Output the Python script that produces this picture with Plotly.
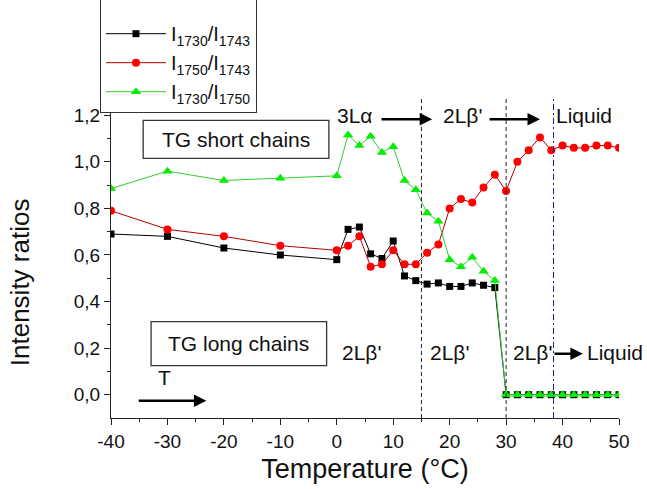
import plotly.graph_objects as go

# ---- data ----
temperature = [-40, -30, -20, -10, 0, 2, 4, 6, 8, 10, 12, 14, 16, 18, 20, 22, 24, 26, 28,
               30, 32, 34, 36, 38, 40, 42, 44, 46, 48, 50]
ratio_1730_1743 = [0.69, 0.68, 0.63, 0.60, 0.58, 0.71, 0.72, 0.605, 0.585, 0.66, 0.51, 0.49,
                   0.475, 0.48, 0.465, 0.465, 0.48, 0.47, 0.46,
                   0, 0, 0, 0, 0, 0, 0, 0, 0, 0, 0]
ratio_1750_1743 = [0.79, 0.71, 0.68, 0.64, 0.62, 0.64, 0.68, 0.55, 0.56, 0.62, 0.56, 0.56,
                   0.61, 0.645, 0.80, 0.84, 0.825, 0.89, 0.945,
                   0.875, 1.00, 1.05, 1.105, 1.05, 1.07, 1.06, 1.06, 1.07, 1.07, 1.06]
ratio_1730_1750 = [0.885, 0.96, 0.92, 0.93, 0.94, 1.115, 1.07, 1.11, 1.04, 1.065, 0.92, 0.88,
                   0.78, 0.745, 0.58, 0.55, 0.59, 0.53, 0.49,
                   0, 0, 0, 0, 0, 0, 0, 0, 0, 0, 0]

series_names = ["I<sub>1730</sub>/I<sub>1743</sub>",
                "I<sub>1750</sub>/I<sub>1743</sub>",
                "I<sub>1730</sub>/I<sub>1750</sub>"]

x_ticks = [-40, -30, -20, -10, 0, 10, 20, 30, 40, 50]
x_tick_labels = ["-40", "-30", "-20", "-10", "0", "10", "20", "30", "40", "50"]
y_ticks = [0.0, 0.2, 0.4, 0.6, 0.8, 1.0, 1.2]
y_tick_labels = ["0,0", "0,2", "0,4", "0,6", "0,8", "1,0", "1,2"]
y_minor_ticks = [0.1, 0.3, 0.5, 0.7, 0.9, 1.1]

phase_lines = [15, 30]          # black dashed
liquid_line = 38.4              # blue dash-dot

FONT = "Arial, 'Liberation Sans', sans-serif"

fig = go.Figure()
fig.add_trace(go.Scatter(x=temperature, y=ratio_1730_1743, name=series_names[0],
                         mode="lines+markers",
                         line=dict(color="#000000", width=1),
                         marker=dict(symbol="square", size=7, color="#000000")))
fig.add_trace(go.Scatter(x=temperature, y=ratio_1750_1743, name=series_names[1],
                         mode="lines+markers",
                         line=dict(color="#b00000", width=1),
                         marker=dict(symbol="circle", size=8, color="#ff0000")))
fig.add_trace(go.Scatter(x=temperature, y=ratio_1730_1750, name=series_names[2],
                         mode="lines+markers",
                         line=dict(color="#33cc33", width=1),
                         marker=dict(symbol="triangle-up", size=9, color="#00ee00")))

shapes = []
for xv in phase_lines:
    shapes.append(dict(type="line", xref="x", yref="y", x0=xv, x1=xv, y0=-0.1, y1=1.277,
                       line=dict(color="#222222", width=1, dash="4px,3px")))
shapes.append(dict(type="line", xref="x", yref="y", x0=liquid_line, x1=liquid_line,
                   y0=-0.1, y1=1.277,
                   line=dict(color="#1a1aa8", width=1, dash="6px,3px,2px,3px")))
# text boxes
shapes.append(dict(type="rect", xref="x", yref="y", x0=-34.3, x1=-1.4, y0=1.015, y1=1.178,
                   line=dict(color="#333333", width=1.3)))
shapes.append(dict(type="rect", xref="x", yref="y", x0=-32.9, x1=-1.8, y0=0.125, y1=0.314,
                   line=dict(color="#333333", width=1.3)))

lab = dict(size=21, color="#111111", family=FONT)
annotations = [
    dict(text="TG short chains", x=-17.8, y=1.097, xref="x", yref="y", showarrow=False, font=lab),
    dict(text="TG long chains", x=-17.4, y=0.219, xref="x", yref="y", showarrow=False, font=lab),
    dict(text="3Lα", x=3.24, y=1.2, xref="x", yref="y", showarrow=False, font=lab),
    dict(text="2Lβ'", x=22.35, y=1.2, xref="x", yref="y", showarrow=False, font=lab),
    dict(text="Liquid", x=43.8, y=1.2, xref="x", yref="y", showarrow=False, font=lab),
    dict(text="2Lβ'", x=4.3, y=0.18, xref="x", yref="y", showarrow=False, font=lab),
    dict(text="2Lβ'", x=19.9, y=0.18, xref="x", yref="y", showarrow=False, font=lab),
    dict(text="2Lβ'", x=34.6, y=0.18, xref="x", yref="y", showarrow=False, font=lab),
    dict(text="Liquid", x=49.3, y=0.18, xref="x", yref="y", showarrow=False, font=lab),
    dict(text="T", x=-30.6, y=0.075, xref="x", yref="y", showarrow=False, font=lab),
    dict(text="Intensity ratios", textangle=-90, x=-0.179, y=0.325, xref="paper", yref="paper",
         xanchor="center", yanchor="middle",
         showarrow=False, font=dict(size=26, color="#111111", family=FONT)),
]
arrows = [(7.66, 16.9, 1.183), (26.8, 36.0, 1.183), (38.3, 43.6, 0.176), (-35.35, -23.1, -0.026)]
for tail, tip, yv in arrows:
    annotations.append(dict(text="", x=tip, y=yv, ax=tail, ay=yv, xref="x", yref="y",
                            axref="x", ayref="y", showarrow=True, arrowhead=2, arrowsize=1,
                            arrowwidth=2.5, arrowcolor="#000000", standoff=0, startstandoff=0))

fig.update_layout(
    width=647, height=489,
    margin=dict(l=111, r=28, t=0, b=71, autoexpand=False),
    paper_bgcolor="white", plot_bgcolor="white",
    font=dict(family=FONT, color="#111111"),
    shapes=shapes, annotations=annotations,
    showlegend=True,
    legend=dict(x=-0.0217, y=1.012, xanchor="left", yanchor="top",
                bgcolor="white", bordercolor="#333333", borderwidth=1,
                font=dict(size=20, family=FONT, color="#111111"),
                title=dict(text=" ", font=dict(size=14)),
                tracegroupgap=0, itemwidth=60),
    xaxis=dict(range=[-40, 50], tickmode="array", tickvals=x_ticks, ticktext=x_tick_labels,
               ticks="outside", ticklen=6, tickwidth=1, tickcolor="#222222",
               showline=True, linecolor="#222222", linewidth=1,
               showgrid=False, zeroline=False,
               tickfont=dict(size=19, family=FONT, color="#111111"),
               minor=dict(ticks="outside", ticklen=3, dtick=5, tick0=-40, tickcolor="#222222",
                          showgrid=False),
               title=dict(text="Temperature (°C)", font=dict(size=27, family=FONT, color="#111111"),
                          standoff=8)),
    yaxis=dict(range=[-0.1, 1.695], tickmode="array", tickvals=y_ticks, ticktext=y_tick_labels,
               ticks="outside", ticklen=6, tickwidth=1, tickcolor="#222222",
               showline=True, linecolor="#222222", linewidth=1,
               showgrid=False, zeroline=False,
               tickfont=dict(size=19, family=FONT, color="#111111"),
               minor=dict(ticks="outside", ticklen=3, tickmode="array", tickvals=y_minor_ticks,
                          tickcolor="#222222", showgrid=False)),
)

fig.write_html("out.html", config={"displayModeBar": False},
               post_script="document.body.style.margin='0';")
